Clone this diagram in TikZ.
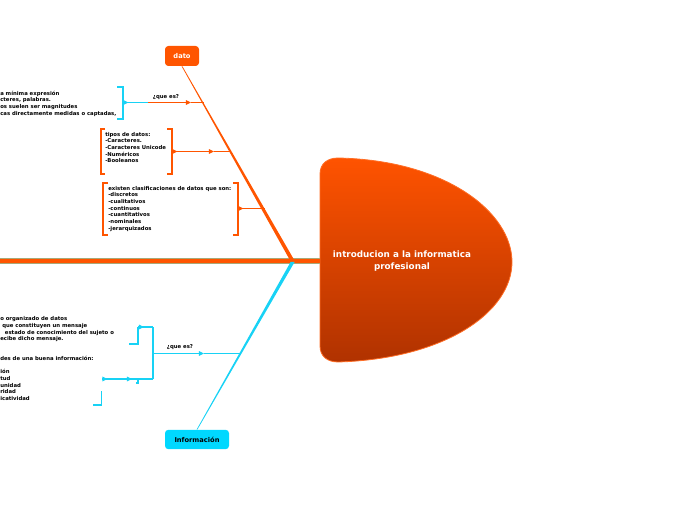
\documentclass[tikz,border=0pt]{standalone}
\usepackage{fontspec}
\setmainfont{DejaVu Sans}
\usetikzlibrary{arrows.meta,calc}
\definecolor{org}{HTML}{FF5500}
\definecolor{cyn}{HTML}{18D2F5}
\definecolor{infofill}{HTML}{00D8FF}
\definecolor{headtop}{HTML}{FF5300}
\definecolor{headbot}{HTML}{B03200}
\definecolor{olive}{HTML}{A8A878}
\tikzset{
  tri/.tip={Triangle[length=3.8pt,width=3.4pt]},
  orgline/.style={draw=org,line width=0.9pt},
  cynline/.style={draw=cyn,line width=0.9pt},
  brk/.style={line width=1.1pt},
  smalltxt/.style={font=\fontsize{4pt}{5pt}\selectfont\bfseries,align=left,inner sep=0pt,anchor=north west,text=black},
  qlabel/.style={font=\fontsize{4pt}{5pt}\selectfont\bfseries,inner sep=0pt,text=black},
  mainbox/.style={rounded corners=2.5pt,minimum width=25.5pt,minimum height=15pt,inner sep=0pt,font=\fontsize{5pt}{6pt}\selectfont\bfseries},
  headtxt/.style={font=\fontsize{6.6pt}{9pt}\selectfont\bfseries,text=white,align=center,inner sep=0pt},
}
\begin{document}
\begin{tikzpicture}[x=0.75pt,y=-0.75pt]
\useasboundingbox (0,0) rectangle (696,520);

% head shape
\path[top color=headtop,bottom color=headbot,draw=org!85!white,line width=0.6pt]
  (320,174) .. controls (320,164) and (327,158) .. (338,158)
  .. controls (445,160) and (512,212) .. (512,262)
  .. controls (512,312) and (445,359) .. (338,362)
  .. controls (327,362) and (320,356) .. (320,346) -- cycle;
\node[headtxt] (head) at (402,261.5) {introducion a la informatica\\profesional};

% spine
\coordinate (S0) at (0,261);
\coordinate (J) at (293,261);
\coordinate (HW) at (320,261);
\draw[olive,line width=3.8pt] (S0) -- (HW);
\draw[org,line width=2.6pt] (S0) -- (HW);

% main nodes
\node[mainbox,fill=org,text=white,minimum width=25.5pt] (dato) at (182,56) {dato};
\node[mainbox,fill=infofill,text=black,minimum width=48pt,minimum height=14.5pt] (info) at (197,439.5) {Información};

% tapered bones
\fill[org] ($(dato.south)+(-0.4,0)$) -- ($(dato.south)+(0.4,0)$) -- ($(J)+(1.8,0)$) -- ($(J)+(-2.6,0)$) -- cycle;
\fill[cyn] ($(info.north)+(-0.4,0)$) -- ($(info.north)+(0.4,0)$) -- ($(J)+(1.6,1)$) -- ($(J)+(-2.4,1)$) -- cycle;

% ---- dato branch 1: que es
\coordinate (j1) at (203.5,102.5);
\coordinate (b1) at (123,102.5);
\coordinate (c1) at (148,102.5);
\coordinate (m1) at (191,102.5);
\draw[cynline,-tri] (b1) -- ($(b1)+(5.5,0)$);
\draw[cynline] (b1) -- (c1);
\draw[orgline,-tri] (c1) -- (m1);
\draw[orgline] (m1) -- (j1);
\draw[cyn,brk] (117,87) -- (123,87) -- (123,119) -- (117,119);
\node[qlabel] (q1) at (166,97) {¿que es?};
\node[smalltxt] (t1) at (0,90.5) {a mínima expresión\\cteres, palabras.\\os suelen ser magnitudes\\cas directamente medidas o captadas,};

% ---- dato branch 2: tipos
\coordinate (j2) at (231,151.5);
\coordinate (b2) at (172,151.5);
\coordinate (m2) at (214,151.5);
\draw[orgline,-tri] (b2) -- ($(b2)+(5.5,0)$);
\draw[orgline,-tri] (b2) -- (m2);
\draw[orgline] (m2) -- (j2);
\draw[org,brk] (105,129) -- (101,129) -- (101,174) -- (105,174);
\draw[org,brk] (167,129) -- (172,129) -- (172,174) -- (167,174);
\node[smalltxt] (t2) at (105,132) {tipos de datos:\\-Caracteres.\\-Caracteres Unicode\\-Numéricos\\-Booleanos};

% ---- dato branch 3: clasificaciones
\coordinate (j3) at (264.5,208.5);
\coordinate (b3) at (238,208.5);
\draw[orgline,-tri] (b3) -- ($(b3)+(5.5,0)$);
\draw[orgline] (b3) -- (j3);
\draw[org,brk] (108,183) -- (103,183) -- (103,235) -- (108,235);
\draw[org,brk] (233,183) -- (238,183) -- (238,235) -- (233,235);
\node[smalltxt] (t3) at (108,186) {existen clasificaciones de datos que son:\\-discretos\\-cualitativos\\-continuos\\-cuantitativos\\-nominales\\-jerarquizados};

% ---- info branch
\coordinate (j4) at (240.5,353.5);
\coordinate (b4) at (153,353.5);
\coordinate (m4) at (204,353.5);
\draw[cynline,-tri] (b4) -- (m4);
\draw[cynline] (m4) -- (j4);
\node[qlabel] (q4) at (180,347) {¿que es?};
\draw[cyn,brk] (153,327) -- (153,379);
\coordinate (u1) at (153,327);
\coordinate (u2) at (138,327);
\draw[cynline] (u1) -- (u2);
\draw[cynline,-tri] (u2) -- ($(u2)+(6,0)$);
\draw[cyn,brk] (138,327) -- (138,344) -- (129,344);
\coordinate (l1) at (153,379);
\coordinate (l2) at (132,379);
\coordinate (l3) at (102,379);
\draw[cynline] (l1) -- (l3);
\draw[cynline,-tri] (l3) -- ($(l3)+(5.5,0)$);
\draw[cynline,-tri] ($(l2)+(-6,0)$) -- (l2);
\draw[cyn,line width=0.8pt] (138,379) -- (138,383) -- (136,383);
\draw[cyn,brk] (101.5,391) -- (101.5,405) -- (93,405);
\node[smalltxt] (t4) at (0,316.5) {o organizado de datos\\\hspace*{1.5pt}que constituyen un mensaje\\\hspace*{3.5pt}estado de conocimiento del sujeto o\\ecibe dicho mensaje.};
\node[smalltxt] (t5) at (0,356) {des de una buena información:\\[5pt]ión\\tud\\unidad\\ridad\\icatividad};
\end{tikzpicture}
\end{document}
